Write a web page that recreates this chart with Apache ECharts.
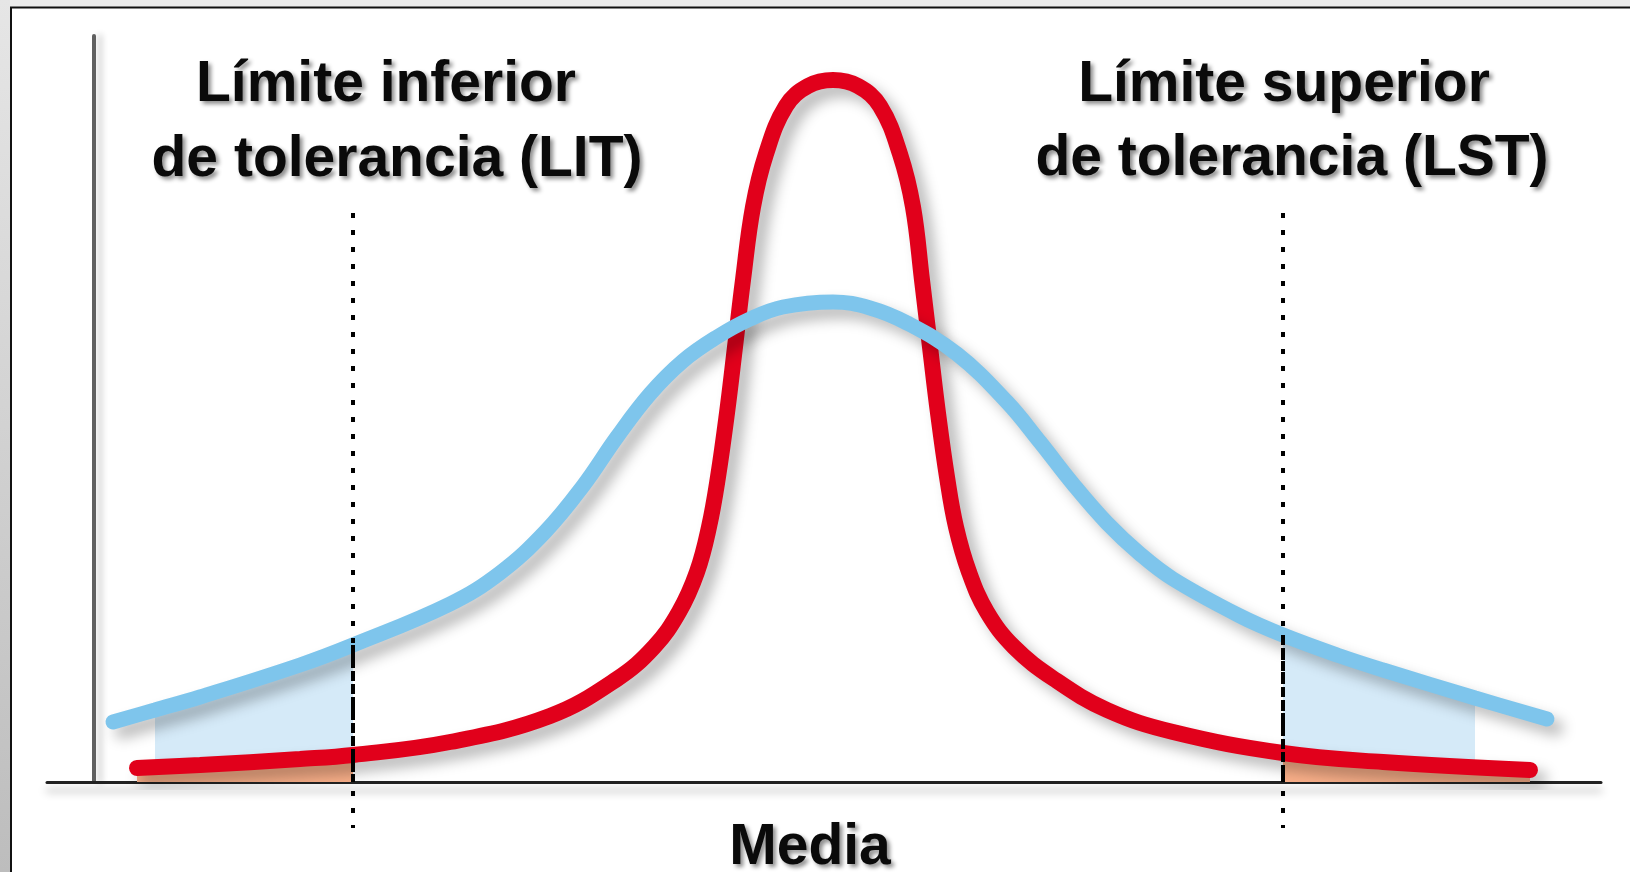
<!DOCTYPE html>
<html>
<head>
<meta charset="utf-8">
<title>Límites de tolerancia</title>
<script src="https://cdn.jsdelivr.net/npm/echarts@6/dist/echarts.min.js"></script>
<style>
    html, body { margin: 0; padding: 0; background: #fff; }
    #chart { width: 1630px; height: 872px; }
</style>
</head>
<body>
<div id="chart"></div>
<script>
const redCurve = [
    [43, 14], [106, 17], [206, 23], [259, 27], [356, 40], [456, 66], [523, 103],
    [560, 135], [585, 170], [603, 210], [615, 255], [624, 305], [633, 369],
    [641, 435], [649, 502], [659, 575], [672, 628], [692, 676], [714, 696],
    [739, 702], [764, 696], [786, 676], [806, 628], [819, 575], [828, 502],
    [836, 435], [844, 369], [853, 305], [862, 255], [875, 210], [893, 170],
    [920, 135], [960, 103], [1013, 72], [1079, 50], [1189, 29], [1289, 20], [1436, 12]
];
const blueCurve = [
    [19, 60], [61, 72], [106, 85], [206, 117], [259, 137], [356, 178], [406, 209],
    [451, 250], [489, 296], [523, 345], [556, 388], [589, 421], [623, 445],
    [656, 463], [689, 475], [739, 480], [776, 474], [813, 459], [863, 428],
    [913, 380], [946, 340], [979, 298], [1013, 259], [1046, 228], [1079, 203],
    [1146, 166], [1189, 147], [1246, 126], [1289, 112], [1381, 84], [1453, 63]
];
const toleranceLimits = [259, 1189];          // LIT, LST
const blueShadeRanges = [[61, 259], [1189, 1381]];
const limitLineSpan = [569, -46];
const headingLines = ['Límite inferior', 'de tolerancia (LIT)', 'Límite superior', 'de tolerancia (LST)'];
const meanLabel = 'Media';

const chart = echarts.init(document.getElementById('chart'));

const [lit, lst] = toleranceLimits;
const between = (curve, from, to) => curve.filter(p => p[0] >= from && p[0] <= to);
const heightAt = (curve, x) => curve.find(p => p[0] === x)[1];

const curveShadow = {
    shadowColor: 'rgba(0, 0, 0, 0.28)',
    shadowBlur: 14,
    shadowOffsetX: 9,
    shadowOffsetY: 9
};

const fillSeries = (data, color) => ({
    type: 'line',
    data: data,
    smooth: 0.4,
    symbol: 'none',
    silent: true,
    lineStyle: { width: 0 },
    areaStyle: { color: color, opacity: 1 },
    z: 1
});

const limitSeries = (x, top, bottom, dash, z) => ({
    type: 'line',
    data: [[x, top], [x, bottom]],
    symbol: 'none',
    silent: true,
    clip: false,
    lineStyle: { color: '#000', width: 4, type: dash },
    z: z
});

const textShadow = {
    textShadowColor: 'rgba(0, 0, 0, 0.45)',
    textShadowBlur: 4,
    textShadowOffsetX: 3,
    textShadowOffsetY: 3
};

const heading = (text, x, y) => ({
    type: 'text',
    z: 10,
    style: Object.assign({
        text: text,
        x: x,
        y: y,
        fill: '#0a0a0a',
        font: 'bold 57px "Liberation Sans", Arial, sans-serif',
        textAlign: 'center',
        textVerticalAlign: 'middle'
    }, textShadow)
});

const option = {
    animation: false,
    backgroundColor: '#fff',
    grid: { left: 47, right: 29, top: 36, bottom: 90 },
    xAxis: {
        type: 'value',
        min: -47,
        max: 1507,
        axisLine: {
            lineStyle: {
                color: '#222',
                width: 3,
                shadowColor: 'rgba(0, 0, 0, 0.3)',
                shadowBlur: 8,
                shadowOffsetY: 8
            }
        },
        axisTick: { show: false },
        axisLabel: { show: false },
        splitLine: { show: false }
    },
    yAxis: {
        type: 'value',
        min: 0,
        max: 746,
        axisLine: {
            show: true,
            onZero: true,
            lineStyle: {
                color: '#606060',
                width: 4,
                shadowColor: 'rgba(0, 0, 0, 0.2)',
                shadowBlur: 6,
                shadowOffsetX: 6
            }
        },
        axisTick: { show: false },
        axisLabel: { show: false },
        splitLine: { show: false }
    },
    series: [
        fillSeries(between(blueCurve, blueShadeRanges[0][0], blueShadeRanges[0][1]), '#d5eaf8'),
        fillSeries(between(blueCurve, blueShadeRanges[1][0], blueShadeRanges[1][1]), '#d5eaf8'),
        fillSeries(between(redCurve, -Infinity, lit), '#f8ae88'),
        fillSeries(between(redCurve, lst, Infinity), '#f8ae88'),
        {
            name: 'red',
            type: 'line',
            data: redCurve,
            smooth: 0.4,
            symbol: 'none',
            lineStyle: Object.assign({ color: '#e1001b', width: 16, cap: 'round' }, curveShadow),
            z: 2
        },
        {
            name: 'blue',
            type: 'line',
            data: blueCurve,
            smooth: 0.4,
            symbol: 'none',
            lineStyle: Object.assign({ color: '#7ec5ec', width: 15, cap: 'round' }, curveShadow),
            z: 3
        },
        limitSeries(lit, limitLineSpan[0], limitLineSpan[1], [5, 12], 4),
        limitSeries(lst, limitLineSpan[0], limitLineSpan[1], [5, 12], 4),
        limitSeries(lit, heightAt(blueCurve, lit), 0, [10, 3], 5),
        limitSeries(lst, heightAt(blueCurve, lst), 0, [10, 3], 5)
    ],
    graphic: [
        // grey page frame, top and left
        { type: 'rect', z: 20, shape: { x: 0, y: 0, width: 1630, height: 7 }, style: { fill: '#ececec' } },
        {
            type: 'rect', z: 20,
            shape: { x: 0, y: 0, width: 10, height: 872 },
            style: {
                fill: new echarts.graphic.LinearGradient(0, 0, 0, 1, [
                    { offset: 0, color: '#e6e6e6' },
                    { offset: 1, color: '#bdbdbd' }
                ])
            }
        },
        { type: 'line', z: 21, shape: { x1: 10, y1: 7.5, x2: 1630, y2: 7.5 }, style: { stroke: '#111', lineWidth: 2 } },
        { type: 'line', z: 21, shape: { x1: 11, y1: 7, x2: 11, y2: 872 }, style: { stroke: '#111', lineWidth: 2 } },
        heading(headingLines[0], 386, 85),
        heading(headingLines[1], 397, 160),
        heading(headingLines[2], 1284, 85),
        heading(headingLines[3], 1292, 159),
        heading(meanLabel, 810, 848)
    ]
};

chart.setOption(option);
window.addEventListener('resize', () => chart.resize());
</script>
</body>
</html>
